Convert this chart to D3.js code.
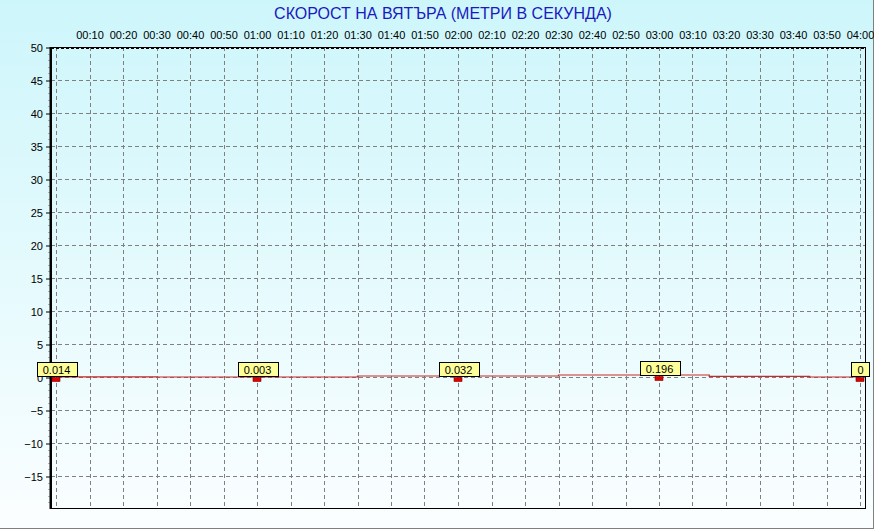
<!DOCTYPE html>
<html><head><meta charset="utf-8">
<script src="https://cdn.jsdelivr.net/npm/d3@7"></script>
<style>html,body{margin:0;padding:0;background:#fff;overflow:hidden}svg{display:block}</style>
</head><body>
<script>
// ---- data ----
const title = "СКОРОСТ НА ВЯТЪРА (МЕТРИ В СЕКУНДА)";
const xTickMinutes = [10,20,30,40,50,60,70,80,90,100,110,120,130,140,150,160,170,180,190,200,210,220,230,240];
const xTickLabels = ["00:10","00:20","00:30","00:40","00:50","01:00","01:10","01:20","01:30","01:40","01:50","02:00","02:10","02:20","02:30","02:40","02:50","03:00","03:10","03:20","03:30","03:40","03:50","04:00"];
const yTickValues = [50,45,40,35,30,25,20,15,10,5,0,-5,-10,-15];
const markerMinutes = [0,60,120,180,240];
const markerValues = [0.014,0.003,0.032,0.196,0];
const markerLabels = ["0.014","0.003","0.032","0.196","0"];
const lineMinutes = [0,30,90,150,195,225,240];
const lineValues = [0.014,0.003,0.15,0.3,0.1,0,0];

// ---- layout ----
const W = 874, H = 529;
const pLeft = 51, pRight = 865, pTop = 47, pBottom = 508;
const x = d3.scaleLinear().domain([0,240]).range([56,860]);
const y = d3.scaleLinear().domain([-20,50]).range([509,47]);

const svg = d3.select("body").append("svg").attr("width",W).attr("height",H);
const defs = svg.append("defs");
const g = defs.append("linearGradient").attr("id","bg").attr("x1",0).attr("x2",0).attr("y1",0).attr("y2",1);
g.append("stop").attr("offset","0%").attr("stop-color","#cdf6fb");
g.append("stop").attr("offset","100%").attr("stop-color","#fbfeff");
svg.append("rect").attr("width",W).attr("height",H).attr("fill","url(#bg)");

// outer frame (gray right/bottom)
svg.append("line").attr("x1",0).attr("x2",874).attr("y1",528.5).attr("y2",528.5).attr("stroke","#808080");
svg.append("line").attr("x1",873.5).attr("x2",873.5).attr("y1",0).attr("y2",529).attr("stroke","#808080");

// title
svg.append("text").attr("x",443).attr("y",19).attr("text-anchor","middle")
  .attr("font-family","Liberation Sans, Arial, sans-serif").attr("font-size",16)
  .attr("fill","#1a1ac0").text(title);

// grid
const grid = svg.append("g").attr("stroke","#808080").attr("stroke-dasharray","4,3").attr("stroke-width",1);
grid.selectAll("line.h").data(yTickValues.filter(v=>v<50)).join("line")
  .attr("x1",pLeft).attr("x2",pRight).attr("y1",d=>Math.round(y(d))+0.5).attr("y2",d=>Math.round(y(d))+0.5);
grid.selectAll("line.v").data([0].concat(xTickMinutes)).join("line")
  .attr("x1",d=>Math.round(x(d))+0.5).attr("x2",d=>Math.round(x(d))+0.5).attr("y1",pTop).attr("y2",pBottom);

// frame
svg.append("rect").attr("x",pLeft+0.5).attr("y",pTop+0.5).attr("width",pRight-pLeft).attr("height",pBottom-pTop)
  .attr("fill","none").attr("stroke","#000");
svg.append("line").attr("x1",pLeft).attr("x2",pRight).attr("y1",pTop+1.5).attr("y2",pTop+1.5)
  .attr("stroke","#000").attr("stroke-dasharray","3,2").attr("stroke-width",1);
svg.append("line").attr("x1",50.5).attr("x2",50.5).attr("y1",pTop).attr("y2",pBottom+1)
  .attr("stroke","#000").attr("stroke-width",2);

// y axis ticks and labels
const yAxis = d3.axisLeft(y).tickValues(yTickValues).tickSize(4).tickPadding(3).tickFormat(d3.format("d"));
const ya = svg.append("g").attr("transform","translate(50,0.5)").call(yAxis);
ya.select(".domain").remove();
ya.selectAll("text").attr("font-family","Liberation Sans, Arial, sans-serif").attr("font-size",11).attr("fill","#000").attr("dy","0.4em");
const yMinor = d3.range(-19,50,1).filter(v=>v%5!==0);
svg.append("g").selectAll("line").data(yMinor).join("line")
  .attr("x1",48.5).attr("x2",50).attr("y1",d=>Math.round(y(d))+0.5).attr("y2",d=>Math.round(y(d))+0.5).attr("stroke","#555").attr("stroke-width",0.8);

// x axis labels at top
const xAxis = d3.axisTop(x).tickValues(xTickMinutes).tickSize(0).tickPadding(0).tickFormat((d,i)=>xTickLabels[i]);
const xa = svg.append("g").attr("transform","translate(0,39)").call(xAxis);
xa.select(".domain").remove();
xa.selectAll("text").attr("font-family","Liberation Sans, Arial, sans-serif").attr("font-size",11).attr("fill","#000");

// line
const lineData = lineMinutes.map((m,i)=>[m,lineValues[i]]);
svg.append("path").datum(lineData)
  .attr("d", d3.line().x(d=>x(d[0])).y(d=>y(d[1])).curve(d3.curveStepAfter))
  .attr("fill","none").attr("stroke","#c82828").attr("stroke-width",1.2);

// markers
const mk = svg.append("g").selectAll("g").data(markerMinutes.map((m,i)=>({m,v:markerValues[i],l:markerLabels[i]}))).join("g");
mk.append("rect").attr("x",d=>Math.round(x(d.m))-4).attr("y",d=>Math.round(y(d.v))+0.5).attr("width",8).attr("height",4)
  .attr("fill","#e00000").attr("stroke","#800000").attr("stroke-width",0.6);
mk.each(function(d){
  const sel = d3.select(this);
  const t = sel.append("text").attr("x",Math.round(x(d.m))+0.5).attr("y",Math.round(y(d.v))-3.5)
    .attr("text-anchor","middle").attr("font-family","Liberation Sans, Arial, sans-serif").attr("font-size",11).attr("fill","#000").text(d.l);
  const w = t.node().getComputedTextLength();
  sel.insert("rect","text").attr("x",Math.round(x(d.m)+0.5-w/2-6)+0.5).attr("y",Math.round(y(d.v))-14.5)
    .attr("width",Math.round(w+12)).attr("height",14).attr("fill","#ffff99").attr("stroke","#000");
});
</script>
</body></html>
